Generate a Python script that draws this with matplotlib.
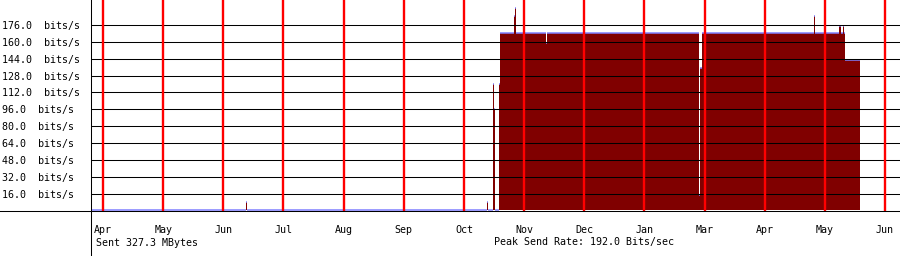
import numpy as np
import matplotlib
matplotlib.use("Agg")
import matplotlib.pyplot as plt
from matplotlib.lines import Line2D

# send rate (bits/s), step series: each value holds from its start day to the next
start_day = [-6.0, 71.3, 71.8, 191.5, 192.0, 194.5, 195.0, 195.5, 197.5, 198.0,
             205.0, 205.5, 206.0, 221.0, 221.5, 297.3, 297.8, 298.5, 354.6, 355.1,
             367.1, 368.1, 369.1, 369.6, 370.1]
rate = [0, 8.5, 0, 8.5, 0, 120, 96, 0, 120, 168,
        184.5, 192, 168, 159, 168, 15, 135, 168, 184.5, 168,
        175, 168, 175, 168, 143]
end_day = 377.6

month_labels = ["Apr", "May", "Jun", "Jul", "Aug", "Sep", "Oct", "Nov", "Dec",
                "Jan", "Mar", "Apr", "May", "Jun"]
month_day = [30 * i for i in range(len(month_labels))]
y_ticks = [16, 32, 48, 64, 80, 96, 112, 128, 144, 160, 176]
sent_text = "Sent 327.3 MBytes"
peak_text = "Peak Send Rate: 192.0 Bits/sec"

FILL = "#800000"
BLUE = "#8080ff"
MONO = "DejaVu Sans Mono"
FS = 7.2

W, H = 900, 256
fig = plt.figure(figsize=(W / 100, H / 100), dpi=100)
ax = fig.add_axes([91 / W, 45 / H, 809 / W, 211 / H])
ax.set_xlim(-6.0, 397.5)
ax.set_ylim(-0.5, 199.72)
for s in ax.spines.values():
    s.set_visible(False)

xs = np.array(start_day + [end_day])
ys = np.array(rate + [rate[-1]])
ax.fill_between(xs, 0, ys, step="post", color=FILL, lw=0, zorder=1,
                antialiased=False)
ends = start_day[1:] + [end_day]
ax.hlines(rate, start_day, ends, color=BLUE, lw=1.1, zorder=2)

for v in y_ticks:
    ax.axhline(v, color="black", lw=0.75, zorder=3)
for d in month_day:
    ax.axvline(d, color="#ff0000", lw=1.7, zorder=4)

ax.set_yticks(y_ticks)
ax.set_yticklabels([f"{v:.1f}  bits/s" for v in y_ticks], family=MONO, fontsize=FS)
ax.tick_params(axis="y", length=0, pad=64)
for t in ax.get_yticklabels():
    t.set_horizontalalignment("left")
ax.set_xticks(month_day)
ax.set_xticklabels(month_labels, family=MONO, fontsize=FS)
ax.tick_params(axis="x", length=0, pad=10)

# crosshair axis lines spanning the whole image
fig.add_artist(Line2D([0, 1], [45 / H, 45 / H], color="black", lw=0.75))
fig.add_artist(Line2D([90.7 / W, 90.7 / W], [0, 1], color="black", lw=0.75))

fig.text(95.5 / W, 1 - 242.5 / H, sent_text, family=MONO, fontsize=FS, va="center")
fig.text(494 / W, 1 - 242.5 / H, peak_text, family=MONO, fontsize=FS, va="center")

fig.savefig("out.png", dpi=100)
